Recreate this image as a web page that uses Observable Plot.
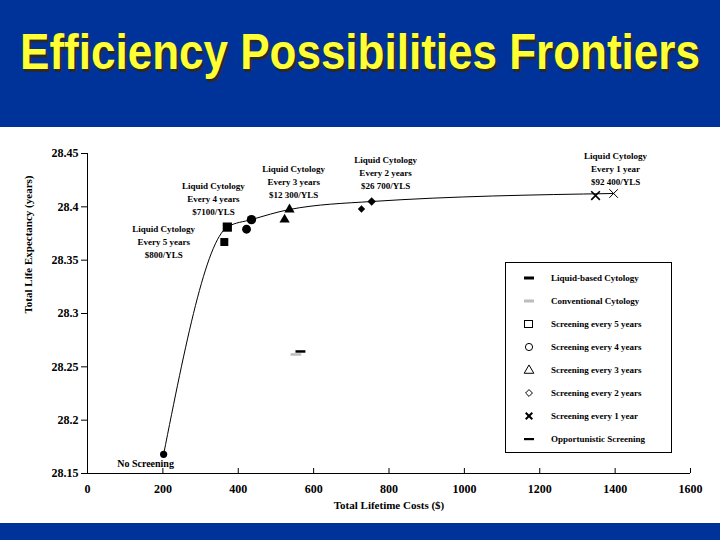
<!DOCTYPE html>
<html>
<head>
<meta charset="utf-8">
<script src="https://cdn.jsdelivr.net/npm/d3@7"></script>
<script src="https://cdn.jsdelivr.net/npm/@observablehq/plot@0.6"></script>
<style>
  html, body { margin: 0; padding: 0; background: #fff; }
  #page { position: relative; width: 720px; height: 540px; overflow: hidden; background: #fff; }
  #band-top { position: absolute; left: 0; top: 0; width: 720px; height: 127px; background: #003399; }
  #title { position: absolute; left: 0; top: 28px; width: 720px; text-align: center;
    font-family: "Liberation Sans", Arial, sans-serif; font-weight: bold; font-size: 44px; line-height: 44px;
    color: #ffff33; text-shadow: 2px 2px 0 #2a2a2a; white-space: nowrap;
    transform: scaleY(1.12); transform-origin: 50% 0; }
  #chart { position: absolute; left: 0; top: 127px; }
  #band-bottom { position: absolute; left: 0; top: 523px; width: 720px; height: 17px; background: #003399; }
  #legend { position: absolute; left: 505px; top: 262px; width: 165px; height: 186px; border: 1px solid #000;
    background: #fff; padding-top: 3px; box-sizing: content-box; }
  .lrow { position: relative; height: 23px; display: flex; align-items: center;
    font-family: "Liberation Serif", "Times New Roman", serif; font-weight: bold; font-size: 9px; color: #000; }
  .lrow svg { position: absolute; left: 16px; }
  .lrow span { position: absolute; left: 45px; white-space: nowrap; }
</style>
</head>
<body>
<div id="page">
  <div id="band-top"><div id="title">Efficiency Possibilities Frontiers</div></div>
  <div id="chart"></div>
  <div id="legend"></div>
  <div id="band-bottom"></div>
</div>
<script>
// ---- data ----
const strategies = ["No screening", "Every 5 years", "Every 4 years", "Every 3 years", "Every 2 years", "Every 1 year", "Opportunistic"];
const liquidCost = [202, 371, 435, 536, 754, 1396, 565];
const liquidLE   = [28.168, 28.381, 28.388, 28.3975, 28.405, 28.4125, 28.2644];
const convCost   = [202, 363, 422, 523, 727, 1348, 553];
const convLE     = [28.168, 28.367, 28.379, 28.388, 28.398, 28.4106, 28.2616];

const annoText = [
  "Liquid Cytology\nEvery 5 years\n$800/YLS",
  "Liquid Cytology\nEvery 4 years\n$7100/YLS",
  "Liquid Cytology\nEvery 3 years\n$12 300/YLS",
  "Liquid Cytology\nEvery 2 years\n$26 700/YLS",
  "Liquid Cytology\nEvery 1 year\n$92 400/YLS"
];
const annoCost = [202, 334, 547, 791, 1401];
const annoLE   = [28.3684, 28.4087, 28.4247, 28.4331, 28.4369];
const noScreenLabel = "No Screening";
const noScreenLabelCost = 154;
const noScreenLabelLE = 28.1594;

const xTicks = [0, 200, 400, 600, 800, 1000, 1200, 1400, 1600];
const yTicks = [28.15, 28.2, 28.25, 28.3, 28.35, 28.4, 28.45];
const xTitle = "Total Lifetime Costs ($)";
const yTitle = "Total Life Expectancy (years)";

const legendLabels = ["Liquid-based Cytology", "Conventional Cytology", "Screening every 5 years", "Screening every 4 years",
  "Screening every 3 years", "Screening every 2 years", "Screening every 1 year", "Opportunistic Screening"];

// ---- build tables ----
const liquid = strategies.map((s, i) => ({strategy: s, cost: liquidCost[i], le: liquidLE[i]}));
const conv = strategies.map((s, i) => ({strategy: s, cost: convCost[i], le: convLE[i]}));
const frontier = liquid.slice(0, 6);
const annos = annoText.map((t, i) => ({text: t, cost: annoCost[i], le: annoLE[i]}));
const pick = (arr, s) => arr.filter(d => d.strategy === s);

const dash = {draw(ctx, size) { const w = Math.sqrt(size); ctx.rect(-w / 2, -1.25, w, 2.5); }};

const chart = Plot.plot({
  width: 720, height: 396,
  marginTop: 26, marginBottom: 50, marginLeft: 87, marginRight: 30,
  style: {fontFamily: "'Liberation Serif', 'Times New Roman', serif", fontWeight: "bold", fontSize: "12px", background: "transparent", color: "#000", overflow: "visible"},
  x: {domain: [0, 1600]},
  y: {domain: [28.15, 28.45]},
  marks: [
    Plot.ruleY([28.15], {stroke: "#000"}),
    Plot.ruleX([0], {stroke: "#000"}),
    Plot.ruleX(xTicks, {x: d => d, y1: 28.15, y2: 28.1547, stroke: "#000"}),
    Plot.axisY({ticks: yTicks, tickSize: 6, tickPadding: 3, label: null, tickFormat: d => String(d), stroke: "#000"}),
    Plot.axisX({ticks: xTicks, tickSize: 0, tickPadding: 11, label: null, tickFormat: d => String(d)}),
    Plot.text([xTitle], {frameAnchor: "bottom", dy: 35, fontSize: 11, text: d => d}),
    Plot.text([yTitle], {frameAnchor: "left", dx: -59, rotate: -90, fontSize: 11, text: d => d}),
    Plot.line(frontier, {x: "cost", y: "le", curve: "monotone-x", stroke: "#000", strokeWidth: 1}),
    // no screening
    Plot.dot(pick(liquid, "No screening"), {x: "cost", y: "le", r: 3.6, fill: "#000", symbol: "circle"}),
    // every 5 years (squares)
    Plot.dot(pick(liquid, "Every 5 years"), {x: "cost", y: "le", r: 5.2, fill: "#000", symbol: "square"}),
    Plot.dot(pick(conv, "Every 5 years"), {x: "cost", y: "le", r: 4.5, fill: "#000", symbol: "square"}),
    // every 4 years (circles)
    Plot.dot(pick(liquid, "Every 4 years"), {x: "cost", y: "le", r: 4.7, fill: "#000", symbol: "circle"}),
    Plot.dot(pick(conv, "Every 4 years"), {x: "cost", y: "le", r: 4.4, fill: "#000", symbol: "circle"}),
    // every 3 years (triangles)
    Plot.dot(pick(liquid, "Every 3 years"), {x: "cost", y: "le", r: 3.8, fill: "#000", symbol: "triangle"}),
    Plot.dot(pick(conv, "Every 3 years"), {x: "cost", y: "le", r: 3.8, fill: "#000", symbol: "triangle"}),
    // every 2 years (diamonds)
    Plot.dot(pick(liquid, "Every 2 years"), {x: "cost", y: "le", r: 3.8, fill: "#000", symbol: "diamond2"}),
    Plot.dot(pick(conv, "Every 2 years"), {x: "cost", y: "le", r: 3.3, fill: "#000", symbol: "diamond2"}),
    // every 1 year (times)
    Plot.dot(pick(liquid, "Every 1 year"), {x: "cost", y: "le", r: 4, fill: "none", stroke: "#000", strokeWidth: 1, symbol: "times"}),
    Plot.dot(pick(conv, "Every 1 year"), {x: "cost", y: "le", r: 4, fill: "none", stroke: "#000", strokeWidth: 1.6, symbol: "times"}),
    // opportunistic (dashes)
    Plot.dot(pick(conv, "Opportunistic"), {x: "cost", y: "le", r: 6, fill: "#bdbdbd", stroke: "none", symbol: dash}),
    Plot.dot(pick(liquid, "Opportunistic"), {x: "cost", y: "le", r: 5.6, fill: "#000", stroke: "none", symbol: dash}),
    // annotations
    Plot.text(annos, {x: "cost", y: "le", text: "text", fontSize: 9, lineHeight: 1.44, lineAnchor: "middle"}),
    Plot.text([noScreenLabel], {x: () => noScreenLabelCost, y: () => noScreenLabelLE, text: d => d, fontSize: 10})
  ]
});
document.getElementById("chart").appendChild(chart);

// ---- legend ----
const legend = document.getElementById("legend");
const sym = (type, size) => d3.symbol(d3[type], size)();
const legendDraw = [
  `<rect x="2" y="4.5" width="10" height="3" fill="#000"/>`,
  `<rect x="2" y="4.5" width="10" height="3" fill="#bdbdbd"/>`,
  `<rect x="2.5" y="2.5" width="8" height="7" fill="none" stroke="#000" stroke-width="1"/>`,
  `<circle cx="7" cy="6" r="3.6" fill="none" stroke="#000" stroke-width="1"/>`,
  `<path transform="translate(7,6.5)" d="${sym("symbolTriangle", 40)}" fill="none" stroke="#000" stroke-width="1"/>`,
  `<path transform="translate(7,6)" d="${sym("symbolDiamond2", 30)}" fill="none" stroke="#000" stroke-width="1"/>`,
  `<path transform="translate(7,6)" d="${sym("symbolTimes", 30)}" fill="none" stroke="#000" stroke-width="2"/>`,
  `<rect x="2" y="5" width="10" height="2.2" fill="#000"/>`
];
legendLabels.forEach((label, i) => {
  const row = document.createElement("div");
  row.className = "lrow";
  row.innerHTML = `<svg width="14" height="12" viewBox="0 0 14 12">${legendDraw[i]}</svg><span>${label}</span>`;
  legend.appendChild(row);
});
</script>
</body>
</html>
